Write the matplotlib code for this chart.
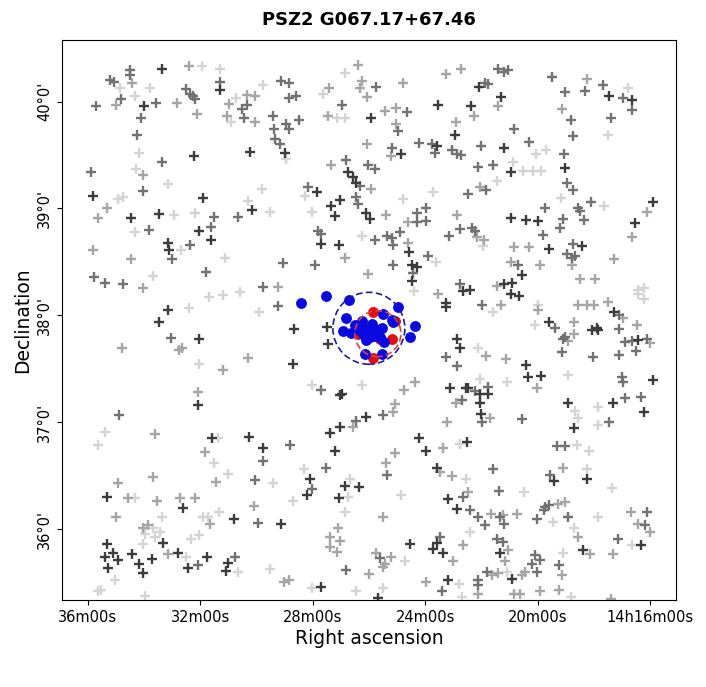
import matplotlib
matplotlib.use('Agg')
import matplotlib.pyplot as plt
from matplotlib.patches import Ellipse

# galaxy positions: RA in minutes past 14h, Dec in degrees, split by grey level
dark_ra = [33.35, 31.30, 34.00, 32.23, 30.23, 35.81, 31.89, 34.45, 33.47, 30.14, 32.05, 31.62, 33.14, 33.12, 33.16,
           23.53, 25.91, 22.93, 23.59, 24.86, 26.74, 26.56, 26.44, 27.84, 28.99, 27.03, 27.35, 27.21, 26.11, 25.97,
           27.72, 27.06, 24.57, 24.48, 24.30, 24.48, 23.24, 23.26, 22.64,
           22.08, 17.46, 16.65, 21.30, 22.37, 21.18, 20.95, 19.02, 15.90, 20.94, 20.41, 19.97, 16.53, 19.58, 18.43,
           20.56, 22.40, 21.18, 20.92, 20.94, 20.66, 17.27,
           33.47, 32.05, 32.07, 31.59, 30.27, 29.76, 35.31, 32.60, 30.80, 33.31, 35.33, 35.09, 35.37, 34.92, 35.27,
           34.42, 34.17, 34.05, 33.73, 32.78, 32.43, 31.77, 31.00, 31.08,
           28.66, 27.48, 27.45, 28.69, 27.03, 26.94, 26.11, 27.01, 27.39, 27.21, 28.10, 28.20, 26.86, 26.35, 27.06,
           24.21, 23.95, 23.57, 23.18, 22.88, 22.88, 22.76, 23.12, 22.53, 22.50, 29.11, 24.54, 23.59, 23.71, 23.38,
           27.72, 25.67, 23.18,
           19.59, 18.07, 17.89, 17.84, 16.41, 20.42, 20.33, 19.88, 22.46, 22.05, 21.75, 22.05, 22.01, 18.90, 18.69,
           17.30, 16.23, 15.91, 19.40, 18.25, 16.32, 18.37, 21.33, 20.92]
dark_dec = [40.30, 40.11, 39.96, 39.49, 39.53, 39.12, 39.10, 38.91, 38.95, 38.99, 38.79, 38.71, 38.68, 38.61, 38.05,
            39.97, 39.85, 39.69, 39.58, 39.51, 39.34, 39.29, 39.24, 39.15, 39.52, 39.08, 39.02, 38.93, 38.96, 38.90,
            38.67, 38.66, 38.59, 38.47, 38.45, 38.32, 38.12, 38.08, 38.23,
            40.14, 40.05, 40.01, 40.04, 39.96, 39.57, 39.34, 39.38, 39.06, 38.91, 38.89, 38.88, 38.86, 38.62, 38.65,
            38.38, 38.24, 38.29, 38.30, 38.20, 38.18, 38.03,
            37.94, 37.78, 37.16, 36.85, 36.86, 36.76, 36.30, 36.20, 36.10, 35.87, 35.86, 35.78, 35.74, 35.71, 35.64,
            35.77, 35.68, 35.59, 35.72, 35.78, 35.64, 35.74, 35.69, 35.61,
            37.87, 37.89, 37.73, 37.55, 37.26, 37.27, 37.05, 36.96, 36.90, 36.73, 36.47, 36.32, 36.41, 36.40, 36.29,
            36.85, 36.73, 36.57, 36.28, 36.19, 37.78, 37.70, 37.32, 37.32, 36.82, 36.05, 35.86, 35.87, 35.82, 35.78,
            35.46, 35.36, 35.53,
            37.94, 37.86, 37.88, 37.86, 37.77, 37.54, 37.42, 37.43, 37.32, 37.27, 37.27, 37.18, 37.08, 37.18, 36.95,
            37.18, 37.10, 37.40, 36.45, 36.47, 35.85, 35.81, 35.78, 35.54]

mid_ra = [34.50, 34.50, 35.22, 35.06, 32.51, 32.37, 32.25, 32.19, 31.28, 35.69, 34.83, 33.56, 34.09, 30.53, 30.32,
          30.45, 34.24, 33.35, 35.89, 34.03, 31.52, 30.67, 33.82, 31.63, 33.00, 32.37, 31.78, 35.77, 35.37, 34.74,
          29.76,
          29.14, 28.84, 25.73, 28.84, 28.60, 26.97, 29.41, 28.93, 28.84, 28.48, 29.38, 29.35, 29.17, 24.66, 24.96,
          24.21, 23.77, 23.65, 23.06, 22.88, 22.73, 25.16, 26.83, 26.02, 25.79, 26.32, 28.16, 26.44, 26.40, 24.30,
          23.95, 24.30, 23.95, 27.80, 27.69, 25.79, 25.37, 25.19, 25.14, 24.90, 23.14, 22.76, 25.14, 24.42, 23.89,
          29.05, 27.92, 22.76, 29.23,
          21.39, 21.18, 21.06, 21.87, 21.77, 19.47, 17.66, 18.31, 19.02, 16.95, 16.65, 18.81, 17.40, 20.82, 18.75,
          22.01, 20.29, 19.05, 22.13, 21.58, 18.96, 18.75, 21.84, 22.49, 19.73, 18.57, 18.49, 18.10, 19.08, 19.20,
          18.35, 19.79, 22.34, 22.22, 18.75, 18.96, 18.78, 18.67, 20.71, 21.99, 17.10,
          33.04, 34.89, 29.76, 30.05, 29.93, 32.07, 30.76,
          27.69, 25.49, 26.44, 28.81, 27.51, 28.04, 25.35, 22.64, 23.24, 22.88, 22.70, 23.47, 25.59, 26.82, 23.41,
          19.38, 19.02, 19.08, 19.12, 18.01, 17.10, 16.89, 16.65, 16.12, 16.51, 17.12, 22.22, 21.77, 21.99, 20.56,
          17.46, 16.89, 16.95, 17.00, 16.32, 19.32, 19.02, 21.60, 19.56, 21.37, 22.40, 22.11, 21.87, 21.33, 21.18,
          19.73, 19.61, 19.76, 20.03, 18.93, 16.12, 16.17, 17.15, 21.45, 21.22, 20.09, 19.91, 20.21, 20.03, 19.23,
          21.81, 22.11, 22.13]
mid_dec = [40.29, 40.25, 40.20, 40.18, 40.12, 40.07, 40.05, 40.02, 40.18, 39.96, 40.02, 39.99, 39.85, 39.93, 39.97,
           39.85, 39.69, 39.43, 39.34, 39.16, 38.92, 38.92, 38.80, 38.83, 38.53, 38.66, 38.41, 38.36, 38.30, 38.29,
           38.27,
           40.19, 40.17, 40.14, 40.03, 40.05, 39.97, 39.86, 39.79, 39.74, 39.83, 39.74, 39.65, 39.60, 39.90, 39.72,
           39.61, 39.60, 39.52, 39.55, 39.51, 39.50, 39.57, 39.45, 39.41, 39.37, 39.21, 39.20, 39.11, 39.04, 38.96,
           39.00, 38.87, 38.88, 38.79, 38.76, 38.71, 38.74, 38.72, 38.66, 38.78, 38.74, 38.81, 38.47, 38.40, 38.56,
           38.49, 38.47, 38.29, 38.09,
           40.30, 40.28, 40.29, 40.17, 40.16, 40.23, 40.15, 40.10, 40.09, 40.03, 39.92, 39.83, 39.85, 39.74, 39.68,
           39.58, 39.62, 39.51, 39.39, 39.41, 39.24, 39.17, 39.17, 39.14, 39.00, 39.00, 38.98, 39.06, 38.90, 38.82,
           38.89, 38.75, 38.82, 38.79, 38.67, 38.57, 38.54, 38.56, 38.47, 38.10, 38.00,
           37.79, 37.07, 36.64, 36.46, 36.06, 35.67, 35.74,
           37.30, 37.07, 37.01, 36.79, 36.57, 36.38, 36.51, 36.30, 37.61, 37.53, 37.21, 35.93, 35.73, 35.62, 35.42,
           37.88, 37.80, 37.78, 37.66, 37.61, 37.87, 37.75, 37.76, 37.78, 37.67, 37.63, 37.29, 37.33, 37.00, 37.03,
           37.00, 37.23, 37.38, 37.42, 37.24, 36.78, 36.78, 36.56, 36.51, 36.36, 36.18, 36.12, 36.04, 36.12, 36.05,
           36.21, 36.23, 36.18, 36.10, 36.12, 36.16, 36.04, 35.91, 35.91, 35.88, 35.76, 35.71, 35.68, 35.60, 35.67,
           35.60, 35.53, 35.48]

light_ra = [32.39, 34.42, 34.98, 32.84, 32.13, 30.97, 30.35, 30.06, 31.03, 30.06, 34.03, 35.30, 35.63, 35.81, 34.45,
            34.03,
            26.40, 27.41, 26.26, 26.32, 26.08, 24.78, 23.26, 22.73, 27.45, 25.43, 25.02, 25.02, 22.90, 26.06, 25.23,
            27.33, 25.91, 25.40, 24.60, 22.88, 24.62, 26.86, 26.02, 23.53, 29.23,
            18.23, 21.39, 22.25, 19.12, 22.05, 16.12, 16.65, 22.16, 21.89, 20.82, 20.30, 18.78, 17.27, 20.94, 19.91,
            18.49, 17.95, 21.45, 21.30, 19.97, 18.57, 18.25, 17.98, 17.50, 16.95,
            34.77, 32.76, 32.63, 30.29, 31.18, 32.07, 33.59, 31.83, 33.67, 31.42, 34.92, 34.56, 33.52, 32.70, 32.19,
            30.08, 35.01, 31.65, 34.03, 33.85, 33.16,
            24.76, 24.36, 25.08, 25.14, 26.56, 25.08, 25.40, 23.38, 23.47, 23.04, 22.90, 23.21, 25.51, 27.09, 27.39,
            27.03, 27.39, 27.13, 22.64, 23.02, 25.73, 25.43, 25.23, 25.49, 25.99, 29.03, 28.84, 23.95,
            18.90, 18.72, 18.72, 16.47, 16.00, 21.84, 21.13, 20.03, 21.69, 19.08, 22.46, 21.65, 21.22, 20.74, 19.28,
            19.02, 18.57, 16.67, 16.41, 16.00, 18.13, 17.30, 21.16, 21.04, 20.44, 20.56, 19.14, 21.39, 21.63, 22.11,
            20.82, 20.62, 19.91, 19.22, 17.38]
light_dec = [40.33, 40.17, 39.97, 39.99, 39.88, 39.98, 40.06, 40.05, 39.86, 39.81, 39.31, 39.00, 38.91, 38.61, 38.53,
             38.26,
             40.34, 40.13, 40.19, 40.13, 40.04, 40.17, 40.26, 40.30, 39.86, 39.91, 39.94, 39.79, 39.81, 39.60, 39.49,
             39.41, 39.18, 38.94, 38.87, 38.94, 38.68, 38.54, 38.39, 38.20, 38.27,
             40.21, 39.96, 39.86, 39.93, 39.20, 38.97, 38.73, 38.73, 38.71, 38.64, 38.64, 38.47, 38.53, 38.50, 38.47,
             38.34, 38.34, 38.28, 38.10, 38.05, 38.10, 38.10, 38.10, 38.13, 37.98,
             37.70, 37.68, 37.70, 37.60, 37.49, 37.28, 36.89, 36.72, 36.49, 36.44, 36.43, 36.29, 36.27, 36.29, 36.29,
             36.22, 36.12, 36.05, 36.01, 36.04, 35.77,
             37.30, 37.38, 37.17, 37.10, 36.96, 36.71, 36.62, 36.76, 36.54, 36.50, 37.18, 37.00, 36.12, 36.01, 35.93,
             35.89, 35.84, 35.79, 35.85, 35.70, 35.78, 35.68, 35.74, 35.65, 35.58, 35.51, 35.53, 35.51,
             37.76, 37.83, 37.94, 37.91, 37.74, 37.62, 37.59, 37.32, 37.04, 36.57, 36.35, 36.14, 36.13, 36.14, 36.24,
             36.26, 35.93, 36.16, 36.05, 35.98, 35.77, 35.77, 35.70, 35.81, 35.60, 35.57, 35.57, 35.59, 35.57, 35.40,
             35.40, 35.40, 35.42, 35.43, 35.35]

faint_ra = [31.95, 31.30, 34.86, 33.79, 34.33, 29.78, 30.71, 30.91, 34.18, 34.30, 33.16, 29.80, 34.74, 34.92, 32.94,
            32.19, 30.29, 34.33, 32.67, 31.10, 33.67, 31.18, 31.69, 30.58, 32.39, 29.91,
            26.86, 27.63, 27.15, 26.86, 28.95, 28.28, 23.71, 24.78, 29.52, 28.04, 26.26, 23.62, 24.40,
            16.80, 17.48, 20.07, 19.70, 20.50, 20.15, 19.88, 20.86, 21.43, 19.16, 17.62, 21.93, 21.57, 19.97, 16.42,
            16.23, 16.42, 16.20,
            32.03, 35.39, 35.63, 31.36, 31.51, 31.00, 34.32, 33.37, 31.89, 31.71, 31.33, 33.67, 33.97, 33.61, 33.43,
            34.03, 32.33, 32.03, 32.52, 30.65, 35.03, 35.65, 35.51, 33.95,
            28.04, 26.26, 29.41, 28.30, 26.68, 26.74, 28.69, 24.84, 22.53, 22.76, 26.86, 22.41, 24.72, 29.52, 25.49,
            22.78, 22.70, 28.04, 26.44,
            20.09, 22.11, 21.10, 22.05, 18.67, 18.55, 17.84, 17.84, 18.90, 18.61, 18.17, 18.25, 17.36, 20.47, 19.44,
            18.72, 17.84, 16.65, 19.08, 21.10, 18.81]
faint_dec = [40.33, 40.30, 40.13, 40.13, 40.05, 40.15, 40.03, 39.81, 39.52, 39.37, 39.23, 39.18, 39.11, 39.09, 38.94,
             38.96, 39.07, 38.78, 38.61, 38.54, 38.37, 38.19, 38.17, 38.22, 38.07, 38.03,
             40.27, 40.07, 39.85, 39.85, 39.46, 39.12, 39.15, 39.09, 38.97, 38.97, 38.74, 38.50, 38.23,
             40.13, 39.69, 39.51, 39.55, 39.35, 39.35, 39.35, 39.43, 39.26, 39.10, 39.02, 38.65, 38.03, 38.10, 38.24,
             38.26, 38.20, 38.15,
             37.55, 36.91, 36.79, 36.85, 36.62, 36.52, 36.29, 36.12, 36.12, 36.12, 36.16, 36.01, 35.96, 35.93, 35.98,
             35.86, 35.91, 35.95, 35.74, 35.60, 35.53, 35.42, 35.43, 35.38,
             37.35, 37.35, 36.43, 36.56, 36.47, 36.30, 36.27, 36.32, 36.47, 36.80, 36.16, 35.98, 35.70, 35.63, 35.45,
             35.49, 35.37, 35.45, 35.42,
             37.91, 37.70, 37.38, 37.41, 37.11, 37.04, 37.14, 36.98, 37.44, 36.79, 36.73, 36.56, 36.39, 36.35, 36.07,
             36.01, 36.12, 35.85, 35.78, 35.60, 35.37]

# cluster members
blue_ra = [28.40, 27.54, 26.71, 24.96, 26.82, 25.51, 25.19, 26.91, 24.36, 24.54, 26.62, 26.26, 26.50, 26.08, 25.90,
           25.82, 26.06, 26.11, 25.73, 25.55, 25.61, 25.13, 25.47, 26.14, 25.55, 25.97, 26.20, 25.79, 26.32, 25.87]
blue_dec = [38.12, 38.18, 38.14, 38.08, 37.98, 38.01, 37.96, 37.85, 37.90, 37.80, 37.84, 37.95, 37.91, 37.87, 37.92,
            37.84, 37.81, 37.77, 37.86, 37.88, 37.80, 37.94, 37.75, 37.64, 37.64, 37.80, 37.83, 37.81, 37.86, 37.87]
red_ra = [25.85, 26.38, 25.61, 25.19, 25.07, 25.87]
red_dec = [38.03, 37.83, 37.78, 37.78, 37.95, 37.60]

ra_ticks = [36, 32, 28, 24, 20, 16]
ra_labels = ['36m00s', '32m00s', '28m00s', '24m00s', '20m00s', '14h16m00s']
dec_ticks = [36, 37, 38, 39, 40]
dec_labels = ["36°0'", "37°0'", "38°0'", "39°0'", "40°0'"]

fig = plt.figure(figsize=(7.06, 6.87), dpi=100)
ax = fig.add_axes([62 / 706, 1 - 600 / 687, 614 / 706, 560 / 687])

groups = [(faint_ra, faint_dec, '#d4d4d4'), (light_ra, light_dec, '#a6a6a6'),
          (mid_ra, mid_dec, '#727272'), (dark_ra, dark_dec, '#3c3c3c')]
for ra, dec, col in groups:
    ax.plot(ra, dec, '+', color=col, ms=7.5, mew=1.7, ls='none')

ax.plot(red_ra, red_dec, 'o', color='#e01010', ms=6.8, ls='none', zorder=4)
ax.plot(blue_ra, blue_dec, 'o', color='#0a0ae0', ms=6.8, ls='none', zorder=5)
ax.add_patch(Ellipse((26.0, 37.88), 2.56, 0.672, fill=False, ls=(0, (4, 2)), ec='#1c1c9c', lw=1.2, zorder=6))
ax.add_patch(Ellipse((25.68, 37.83), 1.64, 0.43, fill=False, ls=(0, (4, 2)), ec='#e04040', lw=1.2, zorder=6))

ax.set_xlim(36.915, 15.075)
ax.set_ylim(35.34, 40.575)
ax.set_xticks(ra_ticks)
ax.set_xticklabels(ra_labels, fontsize=10.5)
ax.set_yticks(dec_ticks)
ax.set_yticklabels(dec_labels, fontsize=10.5, rotation=90, va='center')
ax.set_xlabel('Right ascension', fontsize=13.5, labelpad=3)
ax.set_ylabel('Declination', fontsize=13.5)
ax.set_title('PSZ2 G067.17+67.46', fontsize=13, fontweight='bold', pad=11)

fig.savefig('out.png', dpi=100)
